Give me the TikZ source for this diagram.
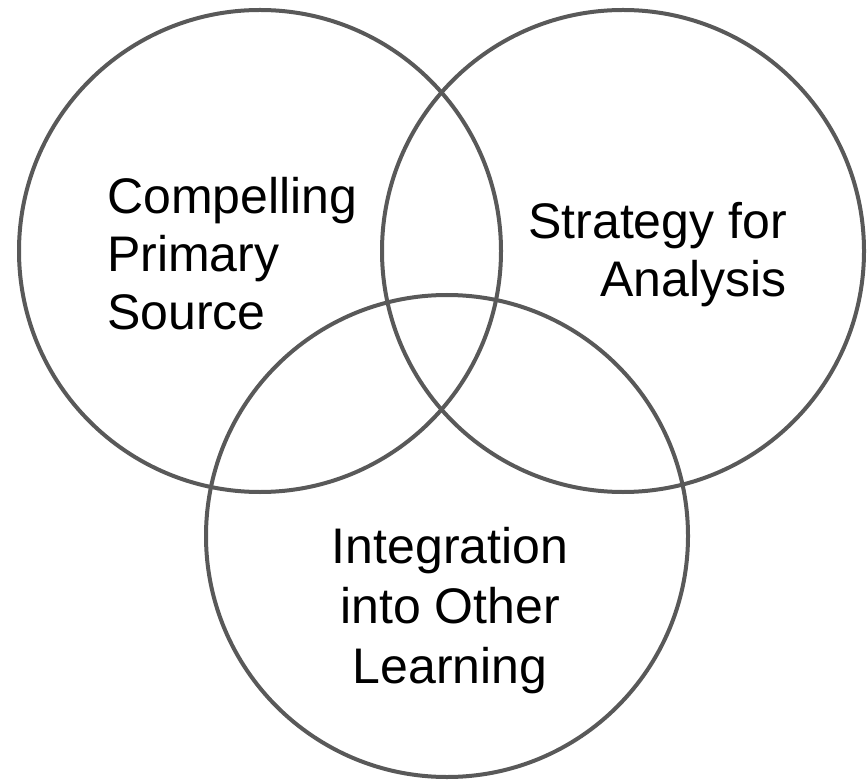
\documentclass[tikz,border=0pt]{standalone}
\usepackage{fontspec}
\setmainfont{Liberation Sans}
\definecolor{ring}{HTML}{595959}
\begin{document}
\begin{tikzpicture}[x=1pt,y=-1pt,
  ringstyle/.style={circle,draw=ring,line width=4pt,minimum size=482pt,inner sep=0pt},
  labelstyle/.style={inner sep=0pt,font=\fontsize{50}{58}\selectfont,text=black}]
\useasboundingbox (0,0) rectangle (867,783);
\node[ringstyle] (c1) at (260,251) {};
\node[ringstyle] (c2) at (623,251) {};
\node[ringstyle] (c3) at (447,536) {};
\node[labelstyle,align=left,anchor=base west] (l1) at (107,330) {Compelling\\Primary\\Source};
\node[labelstyle,align=right,anchor=base east] (l2) at (787,297) {Strategy for\\Analysis};
\node[labelstyle,font=\fontsize{50}{60}\selectfont,align=center,anchor=base] (l3) at (450,683) {Integration\\into Other\\Learning};
\end{tikzpicture}
\end{document}
